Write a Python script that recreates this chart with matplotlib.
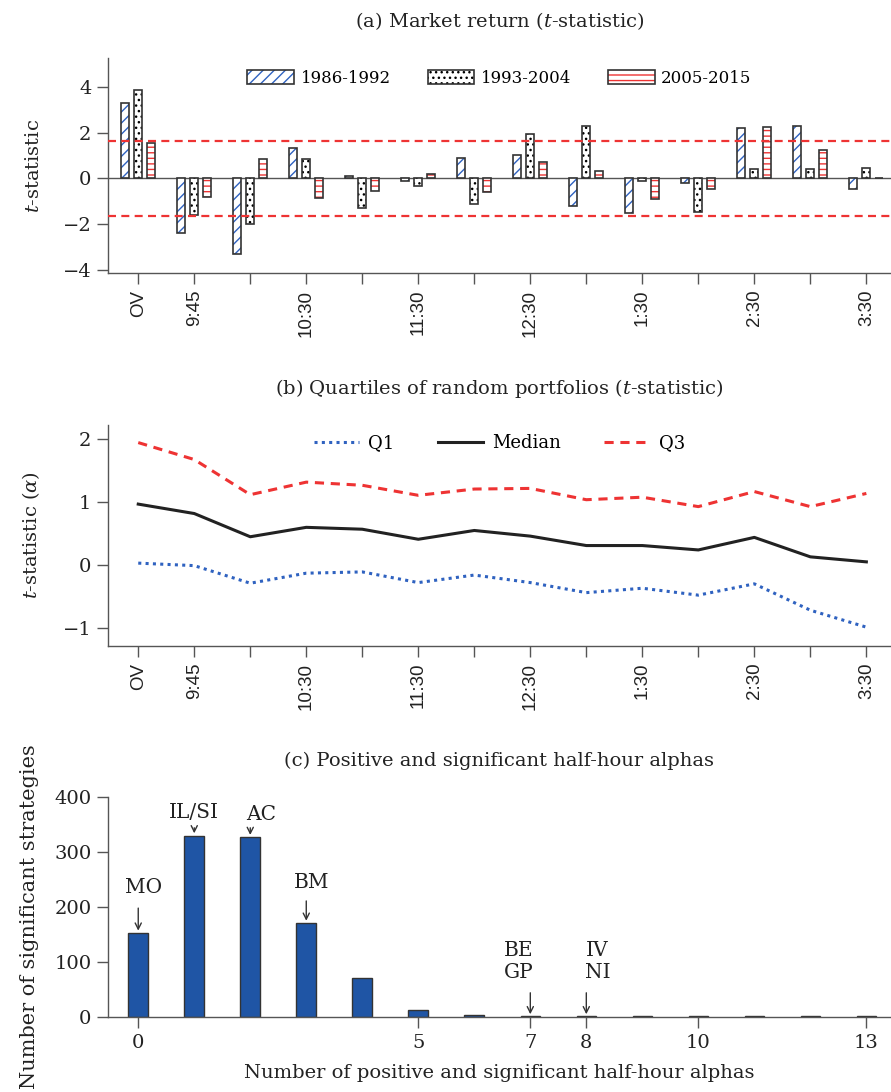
import matplotlib
matplotlib.use("Agg")
import matplotlib.pyplot as plt

plt.rcParams["font.family"] = "DejaVu Serif"
plt.rcParams["mathtext.fontset"] = "dejavuserif"
plt.rcParams["hatch.linewidth"] = 1.0

# half-hour intervals (only every other one is labelled on the axis)
slot_labels = ["OV", "9:45", "", "10:30", "", "11:30", "", "12:30",
               "", "1:30", "", "2:30", "", "3:30"]

# (a) t-statistics of the market return per interval and sub-period
t_1986 = [3.32, -2.41, -3.32, 1.32, 0.12, -0.10, 0.89, 1.04, -1.21, -1.54, -0.19, 2.19, 2.28, -0.45]
t_1993 = [3.86, -1.62, -2.02, 0.83, -1.32, -0.32, -1.11, 1.93, 2.27, -0.12, -1.46, 0.39, 0.39, 0.44]
t_2005 = [1.55, -0.83, 0.83, -0.85, -0.56, 0.20, -0.61, 0.70, 0.31, -0.92, -0.48, 2.24, 1.26, 0.03]
crit = 1.65

# (b) quartiles of random portfolio t-statistics
q1 = [0.03, -0.01, -0.29, -0.13, -0.11, -0.28, -0.16, -0.28, -0.44, -0.37, -0.48, -0.30, -0.72, -0.99]
med = [0.97, 0.82, 0.45, 0.60, 0.57, 0.41, 0.55, 0.46, 0.31, 0.31, 0.24, 0.44, 0.13, 0.05]
q3 = [1.95, 1.68, 1.12, 1.32, 1.27, 1.11, 1.21, 1.22, 1.04, 1.08, 0.93, 1.17, 0.93, 1.14]

# (c) number of strategies by count of positive significant half-hour alphas
n_alphas = list(range(14))
n_strat = [153, 330, 327, 171, 71, 13, 3, 1, 1, 1, 1, 1, 1, 1]
c_ticks = [0, 5, 7, 8, 10, 13]
groups = ["MO", "IL/SI", "AC", "BM", "BE\nGP", "IV\nNI"]
group_at = [0, 1, 2, 3, 7, 8]

SP = "#555555"
BLUE = "#2f62c0"
RED = "#ee3333"
EDGE = "#333333"
TXT = "#222222"
W = 891 / 100
H = 1092 / 100

fig = plt.figure(figsize=(W, H), dpi=100)


def frame(ax):
    for s in ["top", "right"]:
        ax.spines[s].set_visible(False)
    for s in ["left", "bottom"]:
        ax.spines[s].set_color(SP)
        ax.spines[s].set_linewidth(1.0)
    ax.tick_params(direction="out", length=8, width=1.0, color=SP,
                   labelsize=14, labelcolor=TXT, pad=4)


x = list(range(len(slot_labels)))
bw = 0.14
off = 0.232
dash = (0, (3.6, 2.4))

# ---- (a) market return ----
ax1 = fig.add_axes([108 / 891, 1 - 273 / 1092, 783 / 891, 215 / 1092])
frame(ax1)
xa = [i - off for i in x]
xc = [i + off for i in x]
h1 = ax1.bar(xa, t_1986, bw, color="white", edgecolor=BLUE, hatch="///", linewidth=0, zorder=2)
e1 = ax1.bar(xa, t_1986, bw, fill=False, edgecolor=EDGE, linewidth=1.2, zorder=3)
h2 = ax1.bar(x, t_1993, bw, color="white", edgecolor="black", hatch="...", linewidth=0, zorder=2)
e2 = ax1.bar(x, t_1993, bw, fill=False, edgecolor=EDGE, linewidth=1.2, zorder=3)
h3 = ax1.bar(xc, t_2005, bw, color="white", edgecolor=RED, hatch="---", linewidth=0, zorder=2)
e3 = ax1.bar(xc, t_2005, bw, fill=False, edgecolor=EDGE, linewidth=1.2, zorder=3)
ax1.axhline(0, color=SP, lw=1.0, zorder=1)
ax1.axhline(crit, color=RED, lw=1.6, ls=dash, zorder=4)
ax1.axhline(-crit, color=RED, lw=1.6, ls=dash, zorder=4)
ax1.set_xlim(-0.54, 13.44)
ax1.set_ylim(-4.15, 5.27)
ax1.set_yticks([-4, -2, 0, 2, 4])
ax1.set_yticklabels(["\u22124", "\u22122", "0", "2", "4"])
ax1.set_xticks(x)
ax1.set_xticklabels(slot_labels, rotation=90, family="Liberation Sans",
                    fontsize=13.5, va="top")
ax1.set_ylabel("$t$-statistic", fontsize=14, color=TXT)
ax1.yaxis.set_label_coords(-0.083, 0.5)
ax1.set_title("(a) Market return ($t$-statistic)", fontsize=14, color=TXT, pad=22)
ax1.legend([(h1[0], e1[0]), (h2[0], e2[0]), (h3[0], e3[0])],
           ["1986-1992", "1993-2004", "2005-2015"],
           loc="upper center", bbox_to_anchor=(0.5, 1.0), ncol=3, frameon=False,
           fontsize=12, handlelength=2.8, handleheight=0.95, handletextpad=0.4,
           columnspacing=2.2, borderaxespad=0.3)

# ---- (b) quartiles of random portfolios ----
ax2 = fig.add_axes([108 / 891, 1 - 646 / 1092, 783 / 891, 221 / 1092])
frame(ax2)
ax2.plot(x, q1, color=BLUE, lw=2.2, ls=(0, (1, 1.4)), label="Q1")
ax2.plot(x, med, color=TXT, lw=2.2, label="Median")
ax2.plot(x, q3, color=RED, lw=2.2, ls=(0, (3, 2.2)), label="Q3")
ax2.set_xlim(-0.54, 13.44)
ax2.set_ylim(-1.29, 2.23)
ax2.set_yticks([-1, 0, 1, 2])
ax2.set_yticklabels(["\u22121", "0", "1", "2"])
ax2.set_xticks(x)
ax2.set_xticklabels(slot_labels, rotation=90, family="Liberation Sans",
                    fontsize=13.5, va="top")
ax2.set_ylabel("$t$-statistic ($\\alpha$)", fontsize=14, color=TXT)
ax2.yaxis.set_label_coords(-0.084, 0.5)
ax2.set_title("(b) Quartiles of random portfolios ($t$-statistic)", fontsize=14,
              color=TXT, pad=22)
ax2.legend(loc="upper center", bbox_to_anchor=(0.5, 1.0), ncol=3, frameon=False,
           fontsize=13, handlelength=2.5, handletextpad=0.5, columnspacing=2.4,
           borderaxespad=0.1)

# ---- (c) positive and significant half-hour alphas ----
ax3 = fig.add_axes([108 / 891, 1 - 1017 / 1092, 783 / 891, 220 / 1092])
frame(ax3)
ax3.bar(n_alphas, n_strat, 0.35, color="#1f55a5", edgecolor=EDGE, linewidth=1.0, zorder=2)
ax3.set_xlim(-0.54, 13.44)
ax3.set_ylim(0, 400)
ax3.set_yticks([0, 100, 200, 300, 400])
ax3.set_xticks(c_ticks)
ax3.tick_params(axis="x", pad=4)
ax3.set_xlabel("Number of positive and significant half-hour alphas", fontsize=14,
               color=TXT, labelpad=9)
ax3.set_ylabel("Number of significant strategies", fontsize=15, color=TXT)
ax3.yaxis.set_label_coords(-0.088, 0.455)
ax3.set_title("(c) Positive and significant half-hour alphas", fontsize=14,
              color=TXT, pad=22)

# label text position (x, y) and arrow tail height for each strategy group
label_pos = [(0.09, 235, 198), (1.0, 371, 344), (2.2, 368, 344), (3.1, 244, 211),
             (6.8, 101, 44), (8.2, 101, 44)]
for g, k, (tx, ty, tail) in zip(groups, group_at, label_pos):
    ax3.text(tx, ty, g, ha="center", va="center", fontsize=14.5, color=TXT,
             linespacing=1.15)
    ax3.annotate("", xy=(k, n_strat[k] + 4), xytext=(k, tail),
                 arrowprops=dict(arrowstyle="->", color="#333333", lw=1.0,
                                 shrinkA=0, shrinkB=0, mutation_scale=11))

fig.savefig("out.png", dpi=100)
